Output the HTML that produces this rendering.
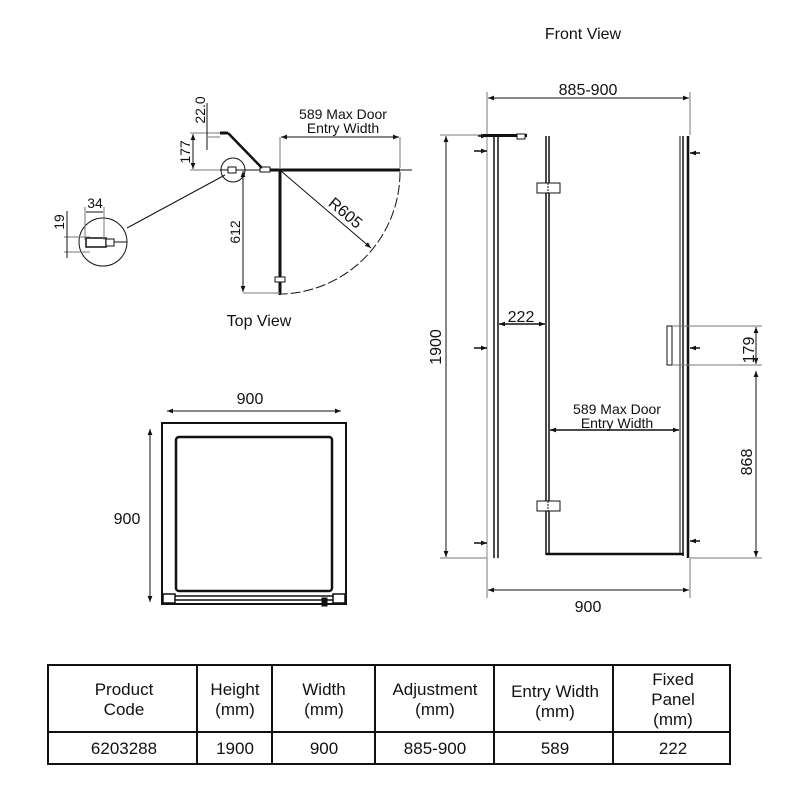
<!DOCTYPE html>
<html><head><meta charset="utf-8"><style>
html,body{margin:0;padding:0;background:#fff}
svg{display:block}
text{font-family:"Liberation Sans",Arial,sans-serif;fill:#111}
</style></head><body>
<svg width="800" height="800" viewBox="0 0 800 800" xmlns="http://www.w3.org/2000/svg">
<defs>
<marker id="a" viewBox="0 0 10 10" refX="10" refY="5" markerWidth="10" markerHeight="6" orient="auto-start-reverse" markerUnits="userSpaceOnUse"><path d="M0,1 L10,5 L0,9 z" fill="#111"/></marker>
</defs>
<g stroke="#111" fill="none" stroke-width="1">
<text x="583" y="39" font-size="16" text-anchor="middle" stroke="none">Front View</text>
<line x1="487" y1="92" x2="487" y2="135" stroke="#777"/>
<line x1="690" y1="92" x2="690" y2="135" stroke="#777"/>
<line x1="488" y1="98" x2="689" y2="98" marker-start="url(#a)" marker-end="url(#a)"/>
<text x="588" y="95" font-size="16" text-anchor="middle" stroke="none">885-900</text>
<line x1="440" y1="135" x2="487" y2="135" stroke="#777"/>
<line x1="440" y1="558" x2="487" y2="558" stroke="#777"/>
<line x1="446" y1="136" x2="446" y2="557" marker-start="url(#a)" marker-end="url(#a)"/>
<text transform="translate(441,347) rotate(-90)" font-size="16" text-anchor="middle" stroke="none">1900</text>
<line x1="487" y1="558" x2="487" y2="598" stroke="#777"/>
<line x1="690" y1="558" x2="690" y2="598" stroke="#777"/>
<line x1="488" y1="590" x2="689" y2="590" marker-start="url(#a)" marker-end="url(#a)"/>
<text x="588" y="612" font-size="16" text-anchor="middle" stroke="none">900</text>
<line x1="487" y1="135" x2="487" y2="558" stroke="#888"/>
<line x1="494" y1="137" x2="494" y2="558" stroke-width="1.5"/>
<line x1="498" y1="137" x2="498" y2="558" stroke-width="1.5"/>
<rect x="483" y="134" width="44" height="3" fill="#111" stroke="none"/>
<rect x="517" y="134" width="8" height="5" fill="#fff"/>
<line x1="546" y1="136" x2="546" y2="555" stroke-width="1.5"/>
<line x1="549" y1="136" x2="549" y2="553" stroke-width="1.5"/>
<line x1="680" y1="136" x2="680" y2="553"/>
<line x1="683" y1="136" x2="683" y2="556" stroke-width="1.5"/>
<line x1="688" y1="136" x2="688" y2="558" stroke-width="2.5"/>
<line x1="546" y1="554" x2="684" y2="554" stroke-width="2.5"/>
<rect x="537" y="183" width="23" height="10" fill="#fff"/>
<line x1="548" y1="183" x2="548" y2="193" stroke-dasharray="2,1"/>
<rect x="537" y="501" width="23" height="10" fill="#fff"/>
<line x1="548" y1="501" x2="548" y2="511" stroke-dasharray="2,1"/>
<rect x="667" y="326" width="5" height="39" fill="#fff"/>
<g stroke-width="1.5">
<line x1="478" y1="136" x2="487" y2="136" marker-end="url(#a)"/>
<line x1="474" y1="151" x2="487" y2="151" marker-end="url(#a)"/>
<line x1="474" y1="348" x2="487" y2="348" marker-end="url(#a)"/>
<line x1="474" y1="543" x2="487" y2="543" marker-end="url(#a)"/>
<line x1="700" y1="153" x2="690" y2="153" marker-end="url(#a)"/>
<line x1="700" y1="348" x2="690" y2="348" marker-end="url(#a)"/>
<line x1="700" y1="541" x2="690" y2="541" marker-end="url(#a)"/>
</g>
<line x1="499" y1="324" x2="545" y2="324" marker-start="url(#a)" marker-end="url(#a)" stroke-width="1.5"/>
<text x="521" y="322" font-size="16" text-anchor="middle" stroke="none">222</text>
<line x1="550" y1="430" x2="679" y2="430" marker-start="url(#a)" marker-end="url(#a)" stroke-width="1.5"/>
<text x="617" y="414" font-size="14" text-anchor="middle" stroke="none">589 Max Door</text>
<text x="617" y="428" font-size="14" text-anchor="middle" stroke="none">Entry Width</text>
<line x1="672" y1="326" x2="762" y2="326" stroke="#777"/>
<line x1="672" y1="365" x2="762" y2="365" stroke="#777"/>
<line x1="690" y1="558" x2="762" y2="558" stroke="#777"/>
<line x1="756" y1="327" x2="756" y2="364" marker-start="url(#a)" marker-end="url(#a)"/>
<line x1="756" y1="371" x2="756" y2="557" marker-start="url(#a)" marker-end="url(#a)"/>
<text transform="translate(754,350) rotate(-90)" font-size="16" text-anchor="middle" stroke="none">179</text>
<text transform="translate(752,462) rotate(-90)" font-size="16" text-anchor="middle" stroke="none">868</text>

<line x1="255" y1="170" x2="412" y2="170" stroke-width="1"/>
<line x1="278" y1="170" x2="400" y2="170" stroke-width="3"/>
<rect x="260" y="167" width="10" height="5" fill="#fff"/>
<line x1="270" y1="170" x2="280" y2="170" stroke-width="3"/>
<line x1="280" y1="170" x2="280" y2="295" stroke-width="3"/>
<rect x="275" y="277" width="10" height="5" fill="#fff"/>
<line x1="220" y1="133" x2="228" y2="133" stroke-width="3"/>
<line x1="228" y1="133" x2="262" y2="168" stroke-width="2.5"/>
<line x1="218" y1="170" x2="260" y2="170"/>
<rect x="228" y="167" width="8" height="6" fill="#fff"/>
<circle cx="233" cy="170" r="12"/>
<line x1="225" y1="175" x2="127" y2="228"/>
<circle cx="103" cy="242" r="24"/>
<rect x="86" y="238" width="20" height="9" fill="#fff" stroke-width="1.5"/>
<rect x="106" y="239" width="8" height="7" fill="#fff"/>
<line x1="114" y1="242" x2="127" y2="242"/>
<path d="M 400 172 A 122 122 0 0 1 282 294" stroke-dasharray="10,3"/>
<line x1="281" y1="171" x2="371" y2="248" marker-end="url(#a)"/>
<text transform="translate(342,217) rotate(40)" font-size="16" text-anchor="middle" stroke="none">R605</text>
<line x1="280" y1="137" x2="280" y2="168" stroke="#777"/>
<line x1="400" y1="137" x2="400" y2="168" stroke="#777"/>
<line x1="281" y1="137" x2="399" y2="137" marker-start="url(#a)" marker-end="url(#a)"/>
<text x="343" y="119" font-size="14" text-anchor="middle" stroke="none">589 Max Door</text>
<text x="343" y="133" font-size="14" text-anchor="middle" stroke="none">Entry Width</text>
<line x1="190" y1="133" x2="220" y2="133" stroke="#777"/>
<line x1="190" y1="170" x2="220" y2="170" stroke="#777"/>
<line x1="193" y1="134" x2="193" y2="169" marker-start="url(#a)" marker-end="url(#a)"/>
<text transform="translate(190,152) rotate(-90)" font-size="14" text-anchor="middle" stroke="none">177</text>
<line x1="207" y1="103" x2="207" y2="150"/>
<line x1="207" y1="137" x2="220" y2="137" stroke="#777"/>
<text transform="translate(205,110) rotate(-90)" font-size="14" text-anchor="middle" stroke="none">22.0</text>
<line x1="243" y1="293" x2="280" y2="293" stroke="#777"/>
<line x1="243" y1="171" x2="243" y2="292" marker-start="url(#a)" marker-end="url(#a)"/>
<text transform="translate(240,232) rotate(-90)" font-size="14" text-anchor="middle" stroke="none">612</text>
<line x1="85" y1="207" x2="85" y2="240" stroke="#777"/>
<line x1="104" y1="207" x2="104" y2="240" stroke="#777"/>
<line x1="86" y1="212" x2="103" y2="212"/>
<text x="95" y="208" font-size="14" text-anchor="middle" stroke="none">34</text>
<line x1="64" y1="237" x2="90" y2="237" stroke="#777"/>
<line x1="64" y1="252" x2="90" y2="252" stroke="#777"/>
<line x1="67" y1="211" x2="67" y2="258"/>
<text transform="translate(64,222) rotate(-90)" font-size="14" text-anchor="middle" stroke="none">19</text>
<text x="259" y="326" font-size="16" text-anchor="middle" stroke="none">Top View</text>

<line x1="167" y1="411" x2="341" y2="411" marker-start="url(#a)" marker-end="url(#a)"/>
<text x="250" y="404" font-size="16" text-anchor="middle" stroke="none">900</text>
<line x1="150" y1="429" x2="150" y2="602" marker-start="url(#a)" marker-end="url(#a)"/>
<text x="127" y="524" font-size="16" text-anchor="middle" stroke="none">900</text>
<rect x="162" y="423" width="184" height="181" stroke-width="2"/>
<rect x="176" y="437" width="156" height="154" rx="3" stroke-width="2.5"/>
<rect x="163" y="594" width="12" height="9" stroke-width="1.5"/>
<rect x="333" y="594" width="12" height="9" stroke-width="1.5"/>
<line x1="175" y1="596" x2="333" y2="596" stroke-width="1.5"/>
<line x1="175" y1="600" x2="333" y2="600" stroke-width="1.5"/>
<rect x="322" y="598" width="5" height="8" fill="#111"/>

<rect x="48" y="665" width="682" height="99" stroke-width="2"/>
<line x1="48" y1="732" x2="730" y2="732" stroke-width="2"/>
<line x1="197" y1="665" x2="197" y2="764" stroke-width="2"/>
<line x1="272" y1="665" x2="272" y2="764" stroke-width="2"/>
<line x1="375" y1="665" x2="375" y2="764" stroke-width="2"/>
<line x1="494" y1="665" x2="494" y2="764" stroke-width="2"/>
<line x1="613" y1="665" x2="613" y2="764" stroke-width="2"/>
</g>
<g font-size="17" text-anchor="middle">
<text x="124" y="695">Product</text><text x="124" y="715">Code</text>
<text x="235" y="695">Height</text><text x="235" y="715">(mm)</text>
<text x="324" y="695">Width</text><text x="324" y="715">(mm)</text>
<text x="435" y="695">Adjustment</text><text x="435" y="715">(mm)</text>
<text x="555" y="697">Entry Width</text><text x="555" y="717">(mm)</text>
<text x="673" y="685">Fixed</text><text x="673" y="705">Panel</text><text x="673" y="725">(mm)</text>
<text x="124" y="754">6203288</text>
<text x="235" y="754">1900</text>
<text x="324" y="754">900</text>
<text x="435" y="754">885-900</text>
<text x="555" y="754">589</text>
<text x="673" y="754">222</text>
</g>
</svg>
</body></html>
